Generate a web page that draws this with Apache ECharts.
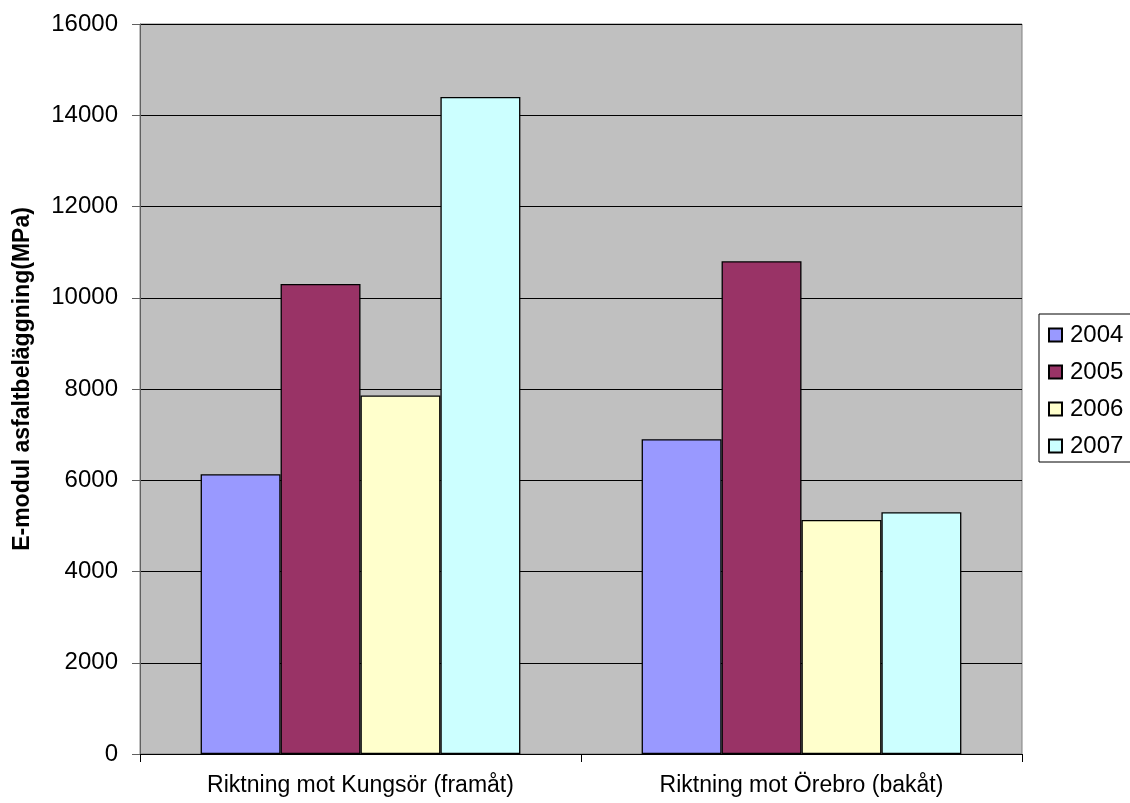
<!DOCTYPE html>
<html>
<head>
<meta charset="utf-8">
<title>E-modul asfaltbeläggning</title>
<script src="https://cdn.jsdelivr.net/npm/echarts@6/dist/echarts.min.js"></script>
<style>
  html, body { margin: 0; padding: 0; background: #ffffff; }
  #chart { width: 1130px; height: 803px; }
</style>
</head>
<body>
<div id="chart"></div>
<script>
// Driving directions on the x axis
const categories = ['Riktning mot Kungsör (framåt)', 'Riktning mot Örebro (bakåt)'];

// Measurement years, one bar series each
const years = ['2004', '2005', '2006', '2007'];

// Stiffness modulus per year (MPa), one value per direction
const values2004 = [6130, 6900];
const values2005 = [10300, 10800];
const values2006 = [7860, 5130];
const values2007 = [14400, 5300];

// Y axis scale
const yMin = 0;
const yMax = 16000;
const yStep = 2000;

const seriesValues = [values2004, values2005, values2006, values2007];
const seriesColors = ['#9999FF', '#993366', '#FFFFCC', '#CCFFFF'];

const fontFamily = '"Liberation Sans", Arial, sans-serif';

const chart = echarts.init(document.getElementById('chart'), null, { renderer: 'canvas' });

chart.setOption({
  animation: false,
  backgroundColor: '#ffffff',
  textStyle: { fontFamily: fontFamily },
  grid: {
    left: 140,
    right: 108,
    top: 24,
    bottom: 49,
    show: true,
    backgroundColor: '#C0C0C0',
    borderColor: '#808080',
    borderWidth: 1
  },
  legend: {
    orient: 'vertical',
    left: 1039,
    top: 314,
    padding: [9, 40, 4, 9],
    itemGap: 13,
    itemWidth: 13,
    itemHeight: 13,
    backgroundColor: '#ffffff',
    borderColor: '#000000',
    borderWidth: 1,
    borderRadius: 0,
    icon: 'rect',
    textStyle: {
      fontFamily: fontFamily,
      fontSize: 24,
      color: '#000000',
      padding: [0, 0, 0, 3]
    },
    data: years
  },
  xAxis: {
    type: 'category',
    data: categories,
    axisLine: { show: true, lineStyle: { color: '#000000', width: 1 } },
    axisTick: { show: true, length: 8, lineStyle: { color: '#000000' } },
    axisLabel: {
      margin: 20,
      fontSize: 23,
      color: '#000000',
      fontFamily: fontFamily
    },
    splitLine: { show: false }
  },
  yAxis: {
    type: 'value',
    min: yMin,
    max: yMax,
    interval: yStep,
    name: 'E-modul asfaltbeläggning(MPa)',
    nameLocation: 'middle',
    nameGap: 106,
    nameTextStyle: {
      fontFamily: fontFamily,
      fontSize: 23,
      fontWeight: 'bold',
      color: '#000000',
      padding: [0, 0, 0, 20]
    },
    axisLine: { show: true, lineStyle: { color: '#606060', width: 1 } },
    axisTick: { show: true, length: 8, lineStyle: { color: '#606060' } },
    axisLabel: {
      margin: 22,
      fontSize: 24,
      color: '#000000',
      fontFamily: fontFamily,
      formatter: function (v) { return String(v); }
    },
    splitLine: { show: true, lineStyle: { color: '#000000', width: 1 } }
  },
  series: years.map(function (year, i) {
    return {
      name: year,
      type: 'bar',
      data: seriesValues[i],
      barGap: '0%',
      barCategoryGap: '27.5%',
      itemStyle: {
        color: seriesColors[i],
        borderColor: '#000000',
        borderWidth: 1.3
      }
    };
  })
});
</script>
</body>
</html>
